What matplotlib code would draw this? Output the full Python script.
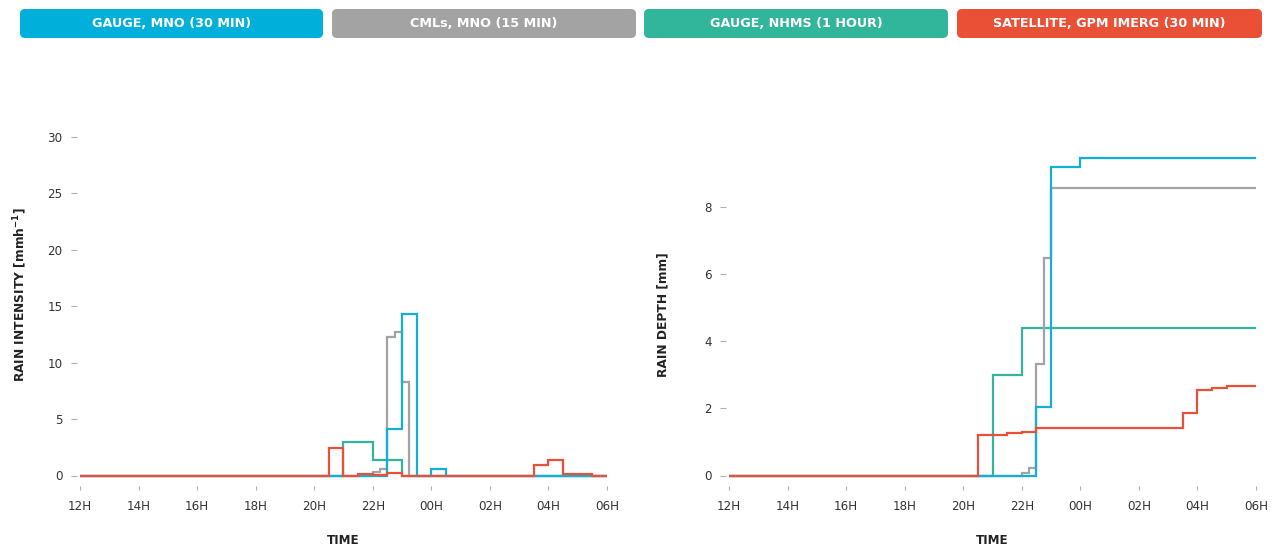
import numpy as np
import matplotlib
matplotlib.use("Agg")
import matplotlib.pyplot as plt
from matplotlib.patches import FancyBboxPatch

plt.rcParams['font.family'] = ['DejaVu Sans']
plt.rcParams['mathtext.fontset'] = 'dejavusans'

# step series: value holds from t[i] to t[i+1] (rain intensity, mm/h)
gauge_mno_t = ["12:00", "22:30", "23:00", "23:30", "00:00", "00:30", "06:00"]
gauge_mno_v = [0, 4.1, 14.3, 0, 0.55, 0]

cml_t = ["12:00", "22:00", "22:15", "22:30", "22:45", "23:00", "23:15", "06:00"]
cml_v = [0, 0.35, 0.6, 12.3, 12.7, 8.3, 0]

nhms_t = ["12:00", "21:00", "22:00", "23:00", "06:00"]
nhms_v = [0, 3.0, 1.4, 0]

imerg_t = ["12:00", "20:30", "21:00", "21:30", "22:00", "22:30", "23:00",
           "03:30", "04:00", "04:30", "05:00", "05:30", "06:00"]
imerg_v = [0, 2.4, 0, 0.16, 0.02, 0.24, 0, 0.9, 1.4, 0.1, 0.14, 0]

series_names = ["GAUGE, MNO (30 MIN)", "CMLs, MNO (15 MIN)",
                "GAUGE, NHMS (1 HOUR)", "SATELLITE, GPM IMERG (30 MIN)"]
colors = ["#12b0d9", "#a3a3a3", "#33b59c", "#e9503a"]
button_colors = ["#00afda", "#a3a3a3", "#31b59b", "#ea5036"]

time_ticks = [12, 14, 16, 18, 20, 22, 24, 26, 28, 30]
time_labels = ["12H", "14H", "16H", "18H", "20H", "22H", "00H", "02H", "04H", "06H"]


def hrs(labels):
    # "HH:MM" -> hours, times before noon belong to the next day
    out = []
    for s in labels:
        h, m = map(int, s.split(":"))
        if h < 12:
            h += 24
        out.append(h + m / 60)
    return np.array(out)


data = [(gauge_mno_t, gauge_mno_v), (cml_t, cml_v), (nhms_t, nhms_v), (imerg_t, imerg_v)]
zorders = [4, 3, 2, 5]

W, H = 1282, 550
fig = plt.figure(figsize=(W / 100, H / 100), dpi=100)

ax1 = fig.add_axes([80 / W, (H - 475.5) / H, 527 / W, 338.5 / H])
ax2 = fig.add_axes([729 / W, (H - 475.5) / H, 527 / W, 317.8 / H])

for (t, v), c, z in zip(data, colors, zorders):
    edges = hrs(t)
    v = np.array(v, dtype=float)
    depth = np.cumsum(v * np.diff(edges))
    ax1.stairs(v, edges, baseline=None, color=c, lw=1.6, zorder=z, clip_on=False)
    ax2.stairs(depth, edges, baseline=None, color=c, lw=1.6, zorder=z, clip_on=False)

ax1.set_ylim(0, 30)
ax1.set_yticks([0, 5, 10, 15, 20, 25, 30])
ax2.set_ylim(0, 9.47)
ax2.set_yticks([0, 2, 4, 6, 8])

for ax in (ax1, ax2):
    ax.set_xlim(12, 30)
    ax.set_xticks(time_ticks)
    ax.set_xticklabels(time_labels)
    ax.spines['left'].set_position(('outward', 2))
    ax.spines['bottom'].set_position(('outward', 7.5))
    for s in ax.spines.values():
        s.set_visible(False)
    ax.tick_params(axis='y', direction='out', length=4, width=0.8, color='#b0b0b0',
                   pad=6.5, labelsize=8.6, labelcolor='#333333')
    ax.tick_params(axis='x', direction='out', length=3, width=0.8, color='#b0b0b0',
                   pad=7, labelsize=8.6, labelcolor='#333333')
    ax.set_xlabel("TIME", fontsize=8.6, fontweight='bold', color='#222222')

ax1.set_ylabel(r"RAIN INTENSITY [mmh$^{\mathbf{-1}}$]", fontsize=8.8, fontweight='bold', color='#222222')
ax2.set_ylabel("RAIN DEPTH [mm]", fontsize=8.8, fontweight='bold', color='#222222')
ax1.yaxis.set_label_coords(29 / W, (H - 295) / H, transform=fig.transFigure)
ax2.yaxis.set_label_coords(669 / W, (H - 315) / H, transform=fig.transFigure)
ax1.xaxis.set_label_coords(0.5, (475.5 - 534.5) / 338.5)
ax2.xaxis.set_label_coords(0.5, (475.5 - 534.5) / 317.8)

# legend buttons across the top
top = fig.add_axes([0, 0, 1, 1])
top.set_xlim(0, W)
top.set_ylim(H, 0)
top.axis('off')
button_x = [(20, 323), (332, 636), (644, 948), (957, 1262)]
for (x0, x1), name, bc in zip(button_x, series_names, button_colors):
    box = FancyBboxPatch((x0 + 5, 9 + 5), x1 - x0 - 10, 29 - 10,
                         boxstyle="round,pad=5", fc=bc, ec='none')
    top.add_patch(box)
    top.text((x0 + x1) / 2, 23.5, name, ha='center', va='center', color='white',
             fontsize=9.2, fontweight='bold')

fig.savefig("out.png", dpi=100)
